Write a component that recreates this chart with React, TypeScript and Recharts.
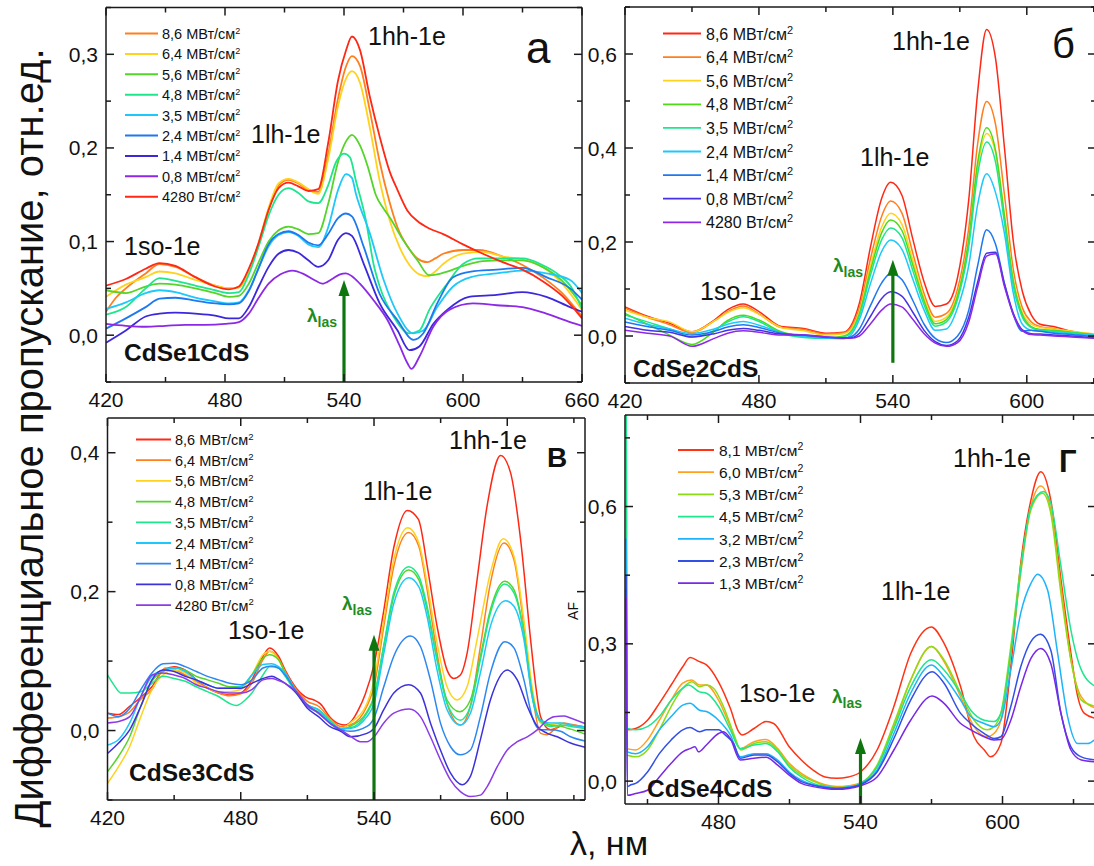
import React from "react";
import { LineChart, Line, XAxis, YAxis, ReferenceLine } from "recharts";

type Pt = [number, number];
const FONT = '"Liberation Sans", Arial, Helvetica, sans-serif';
const AXIS = "#1a1a1a";
const ARROW = "#0f760f";

// ================= Panel а (CdSe1CdS) =================
const aNames = ["8,6 МВт/см", "6,4 МВт/см", "5,6 МВт/см", "4,8 МВт/см", "3,5 МВт/см", "2,4 МВт/см", "1,4 МВт/см", "0,8 МВт/см", "4280 Вт/см"];
const aColors = ["#ff7f1e", "#ffd21e", "#55d52a", "#1ee68c", "#1ec8fa", "#1e78f0", "#3c28dc", "#8c28e6", "#ff2814"];
const a86: Pt[] = [[420,.025],[425,.040],[430,.050],[440,.066],[447,.076],[455,.073],[465,.062],[475,.053],[482,.050],[487,.051],[492,.069],[497,.098],[502,.134],[507,.160],[512,.166],[517,.162],[522,.155],[527,.153],[532,.193],[537,.253],[541,.287],[544,.298],[548,.288],[553,.240],[558,.185],[563,.142],[567,.115],[572,.095],[577,.082],[582,.078],[586,.082],[590,.087],[600,.091],[608,.091],[620,.084],[630,.075],[640,.062],[650,.045],[660,.020]];
const a64: Pt[] = [[420,.041],[430,.054],[440,.062],[447,.068],[455,.066],[465,.059],[475,.053],[482,.050],[487,.051],[492,.069],[497,.099],[502,.136],[507,.162],[512,.167],[517,.163],[522,.156],[527,.151],[532,.188],[537,.245],[541,.274],[544,.282],[548,.270],[553,.222],[558,.165],[563,.123],[568,.094],[573,.075],[578,.065],[582,.063],[586,.068],[590,.076],[600,.087],[610,.089],[620,.084],[630,.081],[640,.073],[650,.055],[660,.027]];
const a56: Pt[] = [[420,.048],[430,.045],[440,.052],[447,.055],[455,.054],[465,.050],[475,.045],[482,.041],[487,.042],[492,.055],[497,.078],[502,.100],[507,.112],[512,.116],[517,.113],[522,.108],[527,.109],[532,.140],[537,.185],[541,.207],[544,.214],[548,.203],[552,.180],[556,.150],[560,.135],[563,.126],[570,.101],[577,.080],[583,.064],[587,.065],[592,.068],[600,.074],[610,.079],[620,.080],[630,.080],[640,.073],[650,.058],[660,.032]];
const a48: Pt[] = [[420,.022],[430,.030],[440,.050],[447,.061],[455,.058],[465,.053],[475,.048],[482,.045],[487,.046],[492,.065],[497,.095],[502,.128],[507,.150],[512,.157],[517,.152],[522,.143],[527,.141],[532,.160],[536,.185],[540,.194],[543,.190],[546,.165],[551,.123],[555,.075],[558,.052],[565,.020],[573,.002],[578,.005],[583,.027],[592,.055],[600,.076],[608,.082],[620,.082],[630,.082],[640,.075],[648,.065],[655,.050],[660,.028]];
const a35: Pt[] = [[420,.028],[430,.035],[440,.045],[447,.048],[455,.046],[465,.040],[475,.036],[482,.034],[487,.035],[492,.048],[497,.072],[502,.095],[507,.107],[512,.110],[517,.106],[522,.097],[527,.094],[532,.115],[537,.155],[541,.172],[544,.168],[546,.151],[553,.109],[560,.059],[567,.023],[575,.002],[580,.005],[587,.030],[595,.052],[604,.062],[617,.066],[630,.069],[642,.066],[654,.059],[660,.045]];
const a24: Pt[] = [[420,.007],[430,.018],[440,.030],[447,.039],[455,.040],[465,.037],[475,.034],[482,.033],[487,.034],[492,.047],[497,.072],[502,.097],[507,.108],[512,.111],[517,.107],[522,.099],[527,.096],[532,.108],[537,.125],[541,.130],[544,.127],[550,.094],[558,.044],[567,.016],[575,-.005],[580,.002],[587,.034],[595,.062],[604,.068],[617,.070],[630,.072],[642,.062],[654,.050],[660,.038]];
const a14: Pt[] = [[420,-.008],[430,.005],[440,.020],[447,.023],[455,.024],[465,.023],[475,.021],[482,.018],[487,.018],[492,.030],[497,.052],[502,.073],[507,.087],[512,.091],[517,.088],[522,.080],[527,.073],[532,.080],[537,.102],[541,.109],[544,.106],[550,.076],[558,.034],[567,.005],[573,-.016],[578,-.012],[585,.012],[592,.027],[603,.041],[617,.043],[630,.046],[642,.041],[654,.030],[660,.025]];
const a08: Pt[] = [[420,.012],[430,.010],[440,.009],[450,.010],[460,.011],[470,.011],[480,.012],[487,.014],[492,.023],[497,.040],[502,.055],[508,.065],[514,.069],[520,.065],[525,.059],[529,.055],[534,.060],[538,.065],[541,.066],[544,.063],[548,.055],[555,.037],[562,.016],[568,-.011],[572,-.030],[574,-.036],[578,-.023],[585,.009],[593,.027],[605,.034],[617,.032],[630,.030],[642,.023],[654,.014],[660,.010]];
const a4280: Pt[] = [[420,.053],[430,.060],[440,.071],[447,.077],[455,.074],[465,.062],[475,.052],[482,.049],[487,.052],[492,.071],[497,.099],[502,.134],[507,.157],[512,.163],[517,.159],[522,.154],[527,.156],[532,.205],[537,.272],[541,.304],[544,.319],[548,.305],[553,.255],[558,.212],[563,.175],[567,.155],[572,.133],[577,.122],[583,.114],[590,.108],[600,.097],[610,.087],[620,.078],[630,.070],[640,.058],[650,.042],[660,.018]];
const aData = [a86, a64, a56, a48, a35, a24, a14, a08, a4280];

// ================= Panel б (CdSe2CdS) =================
const bNames = ["8,6 МВт/см", "6,4 МВт/см", "5,6 МВт/см", "4,8 МВт/см", "3,5 МВт/см", "2,4 МВт/см", "1,4 МВт/см", "0,8 МВт/см", "4280 Вт/см"];
const bColors = ["#ff2814", "#ff7f1e", "#ffd21e", "#4cdc14", "#1ee68c", "#1ec8fa", "#1e78f0", "#4632e6", "#8c28e6"];
const bX = [420,430,440,450,460,466,473,480,490,500,510,518,521,525,530,535,539,544,549,554,559,564,569,574,578,582,586,590,594,598,602,606,612,620,631];
const b86 = [.062,.042,.027,.009,.034,.056,.068,.052,.020,.016,.006,.008,.020,.070,.190,.293,.327,.300,.205,.115,.063,.068,.125,.290,.520,.652,.590,.400,.200,.095,.045,.025,.020,.010,.002];
const b64 = [.059,.040,.024,.007,.032,.052,.064,.047,.018,.014,.004,.007,.016,.060,.165,.255,.287,.262,.175,.090,.040,.048,.100,.230,.410,.499,.450,.300,.140,.060,.030,.020,.016,.009,.002];
const b56 = [.055,.040,.030,.009,.032,.050,.060,.046,.018,.011,.002,.005,.013,.052,.150,.232,.261,.238,.160,.080,.031,.040,.090,.205,.360,.431,.390,.255,.120,.050,.025,.018,.015,.010,.004];
const b48 = [.048,.025,.002,-.018,.010,.033,.044,.034,.009,-.001,-.004,.000,.008,.047,.140,.220,.247,.225,.150,.074,.026,.035,.085,.205,.370,.443,.395,.255,.115,.045,.020,.014,.012,.008,.003];
const b35 = [.045,.030,.015,-.002,.012,.030,.041,.031,.006,-.003,-.005,-.002,.006,.043,.130,.205,.230,.210,.138,.066,.021,.030,.078,.190,.345,.413,.370,.240,.105,.040,.018,.012,.010,.007,.002];
const b24 = [.038,.025,.015,.005,.015,.025,.031,.023,.007,-.001,-.005,-.006,.001,.035,.112,.180,.204,.185,.120,.055,.012,.015,.060,.150,.280,.345,.305,.218,.090,.025,.012,.010,.008,.005,.001];
const b14 = [.030,.020,.012,.002,.010,.019,.024,.018,.006,.002,-.003,-.004,-.002,.015,.065,.113,.133,.120,.075,.025,-.005,-.014,.000,.055,.150,.226,.195,.112,.045,.010,.012,.010,.006,.003,-.002];
const b08 = [.020,.012,.008,-.002,.005,.012,.016,.012,.004,.002,-.002,-.004,-.004,.006,.042,.080,.094,.085,.050,.012,-.012,-.020,-.010,.040,.115,.176,.178,.110,.048,.013,.005,.004,.002,.000,-.004];
const b4280 = [.012,.006,.000,-.022,-.005,.006,.011,.008,.002,.002,-.002,-.004,-.005,.000,.026,.055,.068,.062,.035,.005,-.015,-.022,-.014,.030,.105,.170,.175,.105,.045,.012,.003,.002,.000,-.002,-.005];
const bData: Pt[][] = [b86, b64, b56, b48, b35, b24, b14, b08, b4280].map((v) => v.map((y, i) => [bX[i], y] as Pt));

// ================= Panel в (CdSe3CdS) =================
const cNames = ["8,6 МВт/см", "6,4 МВт/см", "5,6 МВт/см", "4,8 МВт/см", "3,5 МВт/см", "2,4 МВт/см", "1,4 МВт/см", "0,8 МВт/см", "4280 Вт/см"];
const cColors = ["#ff2814", "#ff7f1e", "#ffd21e", "#55d52a", "#1ee68c", "#1ec8fa", "#2d87f0", "#3c32dc", "#8c3ce6"];
const c86: Pt[] = [[420,.025],[425,.023],[430,.035],[435,.048],[440,.063],[445,.087],[450,.092],[455,.087],[460,.073],[465,.061],[470,.054],[475,.051],[480,.054],[485,.073],[490,.107],[493,.119],[497,.107],[500,.087],[505,.061],[510,.047],[513,.044],[516,.038],[520,.020],[524,.010],[527,.008],[530,.014],[533,.030],[536,.052],[540,.095],[544,.165],[549,.265],[555,.317],[560,.304],[564,.236],[568.4,.150],[572.9,.087],[575.9,.075],[578.9,.080],[581.9,.111],[586.4,.217],[590.9,.323],[597,.396],[601.5,.371],[606,.275],[610.5,.131],[613,.060],[615,.020],[619.5,.001],[624,.006],[628.5,.008],[635,.005]];
const c64: Pt[] = [[420,.018],[425,.020],[430,.027],[435,.045],[440,.059],[446,.090],[450,.088],[455,.080],[460,.071],[465,.062],[470,.054],[475,.050],[480,.053],[485,.068],[490,.102],[493,.114],[497,.104],[500,.085],[505,.059],[510,.042],[515,.035],[520,.018],[525,.006],[529.3,.008],[536.8,.035],[540,.063],[544.4,.150],[548.9,.236],[555.6,.285],[560.2,.265],[563.9,.203],[568.4,.111],[572.9,.039],[578.9,.008],[583.4,.035],[587.9,.121],[592.4,.212],[598.5,.270],[603,.246],[607.5,.150],[611.2,.054],[615,-.004],[618,-.006],[621,.001],[625.5,.011],[628.5,.009],[635,.005]];
const c56: Pt[] = [[420,-.076],[425,-.052],[430,-.023],[435,.020],[440,.059],[445,.080],[450,.087],[455,.083],[460,.068],[465,.061],[470,.056],[475,.056],[480,.059],[485,.080],[490,.109],[493,.114],[497,.102],[500,.083],[505,.054],[510,.035],[515,.027],[520,.015],[525,.003],[529.3,.011],[536.8,.039],[540,.073],[544.4,.159],[548.9,.246],[555.2,.292],[560.2,.270],[563.9,.212],[568.4,.126],[572.9,.063],[577.4,.044],[581.9,.063],[586.4,.131],[592.4,.227],[598.2,.276],[603,.251],[607.5,.159],[611.2,.063],[615,.011],[619.5,.008],[624,.011],[628.5,.006],[635,.004]];
const c48: Pt[] = [[420,-.059],[425,-.037],[430,-.009],[435,.035],[440,.071],[445,.085],[450,.090],[455,.087],[460,.078],[465,.073],[470,.068],[475,.063],[480,.063],[485,.080],[490,.104],[493,.109],[497,.102],[500,.083],[505,.056],[510,.035],[515,.027],[520,.011],[525,.001],[529.3,.006],[536.8,.027],[540,.049],[544.4,.121],[548.9,.193],[555.6,.231],[560.2,.217],[563.9,.174],[568.4,.102],[572.9,.044],[578.6,.027],[583.4,.044],[587.9,.107],[592.4,.174],[598.8,.215],[603,.203],[607.5,.140],[611.2,.054],[615,.015],[619.5,.008],[624,.006],[628.5,.002],[635,-.005]];
const c35: Pt[] = [[420,.080],[423,.065],[426,.054],[430,.054],[435,.056],[440,.068],[445,.078],[450,.075],[455,.071],[460,.063],[465,.056],[470,.049],[475,.039],[478,.036],[482,.044],[485,.054],[490,.080],[493,.092],[497,.090],[500,.078],[505,.054],[510,.037],[515,.030],[520,.015],[525,.003],[529.3,.004],[536.8,.025],[540,.047],[544.4,.123],[548.9,.198],[555.6,.236],[560.2,.222],[563.9,.179],[568.4,.102],[572.9,.039],[578.9,.015],[583.4,.035],[587.9,.102],[592.4,.169],[598.8,.211],[603,.198],[607.5,.140],[611.2,.049],[615,.013],[619.5,.006],[624,.008],[628.5,.006],[635,.003]];
const c24: Pt[] = [[420,-.021],[425,-.013],[430,.011],[435,.049],[440,.078],[445,.087],[450,.090],[455,.085],[460,.073],[465,.066],[470,.061],[475,.061],[480,.063],[485,.080],[490,.095],[494,.096],[497,.092],[500,.083],[505,.056],[510,.037],[515,.030],[520,.013],[525,.003],[529.3,.003],[536.8,.020],[540,.039],[544.4,.111],[548.9,.183],[555.6,.220],[560.2,.207],[563.9,.164],[568.4,.087],[572.9,.030],[578.9,.008],[583.4,.025],[587.9,.083],[592.4,.150],[599.2,.187],[603,.179],[607.5,.131],[611.2,.049],[615,.015],[619.5,.011],[624,.011],[628.5,.008],[635,.005]];
const c14: Pt[] = [[420,.025],[425,.020],[430,.032],[435,.059],[440,.083],[445,.096],[450,.097],[455,.092],[460,.085],[465,.078],[470,.073],[475,.068],[480,.066],[485,.073],[490,.090],[494,.093],[497,.090],[500,.080],[505,.056],[510,.035],[515,.025],[520,.011],[525,.001],[529.3,-.001],[536.8,.006],[540,.018],[544.4,.063],[548.9,.107],[556.4,.136],[560.9,.121],[565.4,.073],[569.9,.011],[574.4,-.023],[578.9,-.035],[583.4,-.028],[587.9,.020],[592.4,.083],[598.9,.128],[603,.119],[607.5,.073],[611.2,.020],[615,.001],[619.5,.001],[624,-.001],[628.5,-.009],[635,-.015]];
const c08: Pt[] = [[420,-.033],[425,-.018],[430,.001],[435,.035],[440,.073],[445,.087],[450,.085],[455,.078],[460,.073],[465,.066],[470,.061],[475,.061],[480,.061],[485,.068],[490,.075],[494,.078],[497,.074],[500,.068],[505,.054],[510,.032],[515,.020],[520,.006],[525,-.001],[529.3,-.009],[536.8,-.004],[540,.003],[544.4,.030],[548.9,.054],[555.6,.066],[560.9,.054],[565.4,.011],[569.9,-.028],[574.4,-.061],[579.7,-.078],[583.4,-.066],[587.9,-.013],[592.4,.044],[600,.087],[604.5,.073],[609,.035],[613.5,.006],[618,-.004],[622.5,-.009],[628.5,-.018],[635,-.024]];
const c4280: Pt[] = [[420,.011],[425,.013],[430,.020],[435,.049],[440,.080],[445,.083],[450,.080],[455,.075],[460,.066],[465,.061],[470,.056],[475,.054],[480,.054],[485,.059],[490,.073],[494,.075],[497,.072],[500,.068],[505,.056],[510,.037],[515,.025],[520,.011],[525,.001],[529.3,-.008],[533.8,-.016],[536.8,-.016],[540,-.009],[544.4,.011],[548.9,.025],[555.9,.031],[560.9,.020],[565.4,-.009],[569.9,-.042],[574.4,-.071],[578.9,-.088],[583.4,-.095],[587.9,-.093],[590.9,-.081],[595.5,-.052],[600,-.028],[604.5,-.016],[609,-.009],[613.5,.001],[618,.015],[621,.020],[625.5,.021],[628.5,.018],[635,.010]];
const cData = [c86, c64, c56, c48, c35, c24, c14, c08, c4280];

// ================= Panel г (CdSe4CdS) =================
const dNames = ["8,1 МВт/см", "6,0 МВт/см", "5,3 МВт/см", "4,5 МВт/см", "3,2 МВт/см", "2,3 МВт/см", "1,3 МВт/см"];
const dColors = ["#ff3214", "#ffa01e", "#8cdc14", "#1ee68c", "#1eb4fa", "#3250e6", "#7828e6"];
const d81: Pt[] = [[441.0,.42],[441.5,.112],[445,.115],[450,.133],[455,.170],[460,.210],[464.9,.250],[468,.270],[472,.261],[474.9,.254],[480,.217],[485,.159],[488.5,.108],[489.9,.101],[495,.115],[500.1,.130],[503.3,.126],[509.9,.075],[515,.046],[520,.024],[525,.009],[530,.006],[534.9,.009],[540,.020],[547,.068],[554.1,.163],[561.2,.279],[569.9,.337],[575.3,.301],[582.3,.206],[588,.097],[592.3,.068],[595,.053],[599.3,.082],[603.5,.250],[607.7,.476],[612,.614],[616.2,.676],[620.4,.614],[624.7,.440],[628.9,.279],[631.8,.184],[634.6,.148],[639.5,.137]];
const d60: Pt[] = [[441.2,.071],[445,.068],[450,.090],[455,.133],[460,.177],[464.9,.214],[468.7,.221],[472,.210],[474.9,.210],[480,.177],[485,.119],[489.2,.071],[495,.086],[500.1,.091],[505,.071],[509.9,.039],[515,.017],[520,.002],[525,-.008],[530,-.012],[535,-.010],[540,-.004],[547,.031],[554.1,.119],[561.2,.221],[570,.294],[575.3,.261],[582.3,.184],[588,.119],[593.6,.097],[596.4,.104],[599.3,.133],[603.5,.279],[607.7,.454],[612,.600],[616.2,.645],[620.4,.593],[624.7,.425],[628.9,.265],[633.3,.184],[639.5,.159]];
const d53: Pt[] = [[441.2,.057],[445,.053],[450,.068],[455,.112],[460,.163],[464.9,.203],[468.7,.217],[472,.206],[474.9,.210],[477.9,.203],[482.1,.163],[486.4,.104],[489.5,.068],[495,.082],[500.1,.086],[505,.068],[509.9,.035],[515,.013],[520,.000],[525,-.010],[530,-.014],[535,-.012],[540,-.005],[547,.035],[554.1,.126],[561.2,.221],[570,.294],[575.3,.265],[582.3,.192],[588,.133],[593.6,.112],[596.4,.119],[599.3,.148],[603.5,.294],[607.7,.469],[612,.593],[616.9,.629],[620.4,.585],[624.7,.410],[628.9,.265],[633.3,.177],[639.5,.163]];
const d45: Pt[] = [[441.0,.85],[441.5,.115],[445,.112],[450,.119],[455,.141],[460,.177],[464.9,.203],[467.3,.210],[472,.195],[474.9,.192],[480,.163],[485,.112],[489.2,.071],[495,.079],[500.1,.082],[505,.064],[509.9,.031],[515,.009],[520,-.005],[525,-.012],[530,-.016],[535,-.013],[540,-.006],[547,.031],[554.1,.115],[561.2,.206],[570,.265],[575.3,.243],[582.3,.192],[586.6,.155],[592.3,.133],[596.4,.130],[599.3,.148],[603.5,.279],[607.7,.461],[612,.600],[617.3,.633],[620.4,.607],[624.7,.469],[628.9,.330],[633.3,.243],[639.5,.206]];
const d32: Pt[] = [[441.0,.53],[441.5,.064],[445,.060],[450,.075],[455,.112],[460,.141],[464.9,.166],[468,.170],[472,.155],[474.9,.152],[480,.133],[485,.101],[489.2,.053],[495,.060],[500.1,.060],[505,.046],[509.9,.020],[515,.002],[520,-.008],[525,-.012],[530,-.015],[535,-.013],[540,-.006],[547,.024],[554.1,.104],[561.2,.192],[570,.254],[575.3,.228],[582.3,.177],[586.6,.141],[592.3,.126],[596.4,.119],[599.3,.133],[603.5,.243],[607.7,.367],[612,.432],[614.8,.452],[619,.418],[623.3,.279],[627.5,.141],[631.8,.082],[636,.082],[639.5,.093]];
const d23: Pt[] = [[441.0,.45],[441.5,-.012],[443,-.008],[445,-.005],[450,.020],[455,.060],[460,.090],[464.9,.112],[468,.117],[472,.108],[474.9,.112],[480,.112],[482.8,.101],[486.4,.082],[489.2,.050],[495,.057],[500.1,.057],[505,.042],[509.9,.017],[515,-.001],[520,-.009],[525,-.014],[530,-.016],[535,-.014],[540,-.008],[547,.020],[554.1,.093],[561.2,.177],[570.3,.239],[575.3,.214],[582.3,.148],[586.6,.126],[592.3,.104],[596.4,.093],[599.3,.097],[603.5,.163],[607.7,.250],[612,.305],[616,.321],[620.4,.286],[624.7,.148],[628.9,.075],[633.3,.053],[639.5,.046]];
const d13: Pt[] = [[441.0,.40],[441.5,-.031],[445,-.027],[450,-.020],[455,.009],[460,.039],[464.9,.064],[468,.071],[470.1,.075],[471.5,.064],[474.9,.079],[480,.104],[482.1,.108],[485,.093],[489.2,.046],[495,.050],[500.1,.052],[505,.035],[509.9,.013],[515,-.005],[520,-.012],[525,-.016],[530,-.018],[535,-.016],[540,-.010],[547,.009],[554.1,.068],[561.2,.133],[570.3,.186],[575.3,.170],[582.3,.126],[586.6,.112],[592.3,.097],[596.4,.090],[599.3,.091],[603.5,.133],[607.7,.206],[612,.268],[616.2,.290],[620.4,.257],[624.7,.148],[628.9,.068],[633.3,.046],[639.5,.042]];
const dData = [d81, d60, d53, d45, d32, d23, d13];

// ================= layout =================
interface Panel {
  box: { left: number; top: number; width: number; height: number };
  plot: { l: number; r: number; t: number; b: number };
  xDomain: [number, number];
  yDomain: [number, number];
  xMajor: number[]; xMinor: number[]; yMajor: number[]; yMinor: number[];
  data: Pt[][]; colors: string[]; sw: number;
  arrow: [number, number, number];
}

const panels: Panel[] = [
  { box: { left: 0, top: 0, width: 600, height: 418 }, plot: { l: 106, r: 582, t: 7.5, b: 382 },
    xDomain: [420, 660], yDomain: [-0.05, 0.35], xMajor: [420, 480, 540, 600, 660], xMinor: [450, 510, 570, 630],
    yMajor: [0, 0.1, 0.2, 0.3], yMinor: [-0.05, 0.05, 0.15, 0.25, 0.35], data: aData, colors: aColors, sw: 1.8, arrow: [540, -0.05, 0.059] },
  { box: { left: 560, top: 0, width: 540, height: 418 }, plot: { l: 625, r: 1096, t: 7, b: 383 },
    xDomain: [420, 631], yDomain: [-0.1, 0.7], xMajor: [420, 480, 540, 600], xMinor: [450, 510, 570, 630],
    yMajor: [0, 0.2, 0.4, 0.6], yMinor: [-0.1, 0.1, 0.3, 0.5, 0.7], data: bData, colors: bColors, sw: 1.5, arrow: [540, -0.057, 0.162] },
  { box: { left: 0, top: 400, width: 600, height: 440 }, plot: { l: 107.5, r: 585, t: 418, b: 800 },
    xDomain: [420, 635], yDomain: [-0.1, 0.45], xMajor: [420, 480, 540, 600], xMinor: [450, 510, 570, 630],
    yMajor: [0, 0.2, 0.4], yMinor: [-0.1, 0.1, 0.3], data: cData, colors: cColors, sw: 1.5, arrow: [540, -0.1, 0.138] },
  { box: { left: 560, top: 400, width: 540, height: 440 }, plot: { l: 625, r: 1096, t: 415, b: 804 },
    xDomain: [440.5, 639.5], yDomain: [-0.05, 0.8], xMajor: [480, 540, 600], xMinor: [450, 510, 570, 630],
    yMajor: [0, 0.3, 0.6], yMinor: [0.15, 0.45, 0.75], data: dData, colors: dColors, sw: 1.5, arrow: [540, -0.05, 0.094] },
];

const isMaj = (arr: number[], v: number) => arr.some((m) => Math.abs(m - v) < 1e-6);
const fmt = (v: number) => (Math.abs(v) < 1e-9 ? 0 : v).toFixed(1).replace(".", ",");
const MAJ = 8;
const MIN = 5;
const TICKFONT = 21;
// axis band sizes (must be > 0 or Recharts skips the axis)
const AX_B = 2, AX_T = 2, AX_L = 2, AX_R = 2;

const ArrowShape = (s: any) => {
  const x = s.x1;
  const yb = Math.max(s.y1, s.y2);
  const yt = Math.min(s.y1, s.y2);
  return (
    <g>
      <line x1={x} x2={x} y1={yb} y2={yt + 12} stroke={ARROW} strokeWidth={3.2} />
      <polygon points={`${x},${yt} ${x - 5.5},${yt + 16} ${x + 5.5},${yt + 16}`} fill={ARROW} />
    </g>
  );
};

function PanelChart({ p }: { p: Panel }) {
  const { box, plot } = p;
  const margin = {
    left: plot.l - box.left - AX_L,
    right: box.left + box.width - plot.r - AX_R,
    top: plot.t - box.top - AX_T,
    bottom: box.top + box.height - plot.b - AX_B,
  };
  const xt = [...p.xMajor, ...p.xMinor];
  const yt = [...p.yMajor, ...p.yMinor];
  const axisLine = { stroke: AXIS, strokeWidth: 1.5 };
  return (
    <div style={{ position: "absolute", left: box.left, top: box.top }}>
      <LineChart width={box.width} height={box.height} margin={margin} style={{ overflow: "visible" }}>
        <XAxis xAxisId="b" type="number" dataKey="x" orientation="bottom" domain={p.xDomain} allowDataOverflow ticks={xt} interval={0}
          height={AX_B} tickSize={0} tickMargin={0} tickLine={false} axisLine={axisLine}
          tick={(t: any) => {
            const m = isMaj(p.xMajor, t.payload.value);
            return (
              <g>
                <line x1={t.x} x2={t.x} y1={t.y} y2={t.y - (m ? MAJ : MIN)} stroke={AXIS} strokeWidth={1.5} />
                {m && <text x={t.x} y={t.y + 25} textAnchor="middle" fontSize={TICKFONT} fontFamily={FONT} fill="#111">{t.payload.value}</text>}
              </g>
            );
          }} />
        <XAxis xAxisId="t" type="number" dataKey="x" orientation="top" domain={p.xDomain} allowDataOverflow ticks={xt} interval={0}
          height={AX_T} tickSize={0} tickMargin={0} tickLine={false} axisLine={axisLine}
          tick={(t: any) => {
            const m = isMaj(p.xMajor, t.payload.value);
            return <line x1={t.x} x2={t.x} y1={t.y} y2={t.y + (m ? MAJ : MIN)} stroke={AXIS} strokeWidth={1.5} />;
          }} />
        <YAxis yAxisId="l" type="number" orientation="left" domain={p.yDomain} allowDataOverflow ticks={yt} interval={0}
          width={AX_L} tickSize={0} tickMargin={0} tickLine={false} axisLine={axisLine}
          tick={(t: any) => {
            const m = isMaj(p.yMajor, t.payload.value);
            return (
              <g>
                <line x1={t.x} x2={t.x + (m ? MAJ : MIN)} y1={t.y} y2={t.y} stroke={AXIS} strokeWidth={1.5} />
                {m && <text x={t.x - 8} y={t.y + 7.5} textAnchor="end" fontSize={TICKFONT} fontFamily={FONT} fill="#111">{fmt(t.payload.value)}</text>}
              </g>
            );
          }} />
        <YAxis yAxisId="r" type="number" orientation="right" domain={p.yDomain} allowDataOverflow ticks={yt} interval={0}
          width={AX_R} tickSize={0} tickMargin={0} tickLine={false} axisLine={axisLine}
          tick={(t: any) => {
            const m = isMaj(p.yMajor, t.payload.value);
            return <line x1={t.x} x2={t.x - (m ? MAJ : MIN)} y1={t.y} y2={t.y} stroke={AXIS} strokeWidth={1.5} />;
          }} />
        {p.data.map((s, i) => (
          <Line key={i} xAxisId="b" yAxisId="l" data={s.map(([x, y]) => ({ x, y }))} dataKey="y" type="monotone"
            stroke={p.colors[i]} strokeWidth={p.sw} dot={false} activeDot={false} isAnimationActive={false} />
        ))}
        <ReferenceLine xAxisId="b" yAxisId="l" ifOverflow="visible"
          segment={[{ x: p.arrow[0], y: p.arrow[1] }, { x: p.arrow[0], y: p.arrow[2] }]}
          shape={(s: any) => <ArrowShape {...s} />} />
      </LineChart>
    </div>
  );
}

function LegendBlock({ names, colors, x0, x1, tx, y0, dy, size, sup, sw }: { names: string[]; colors: string[]; x0: number; x1: number; tx: number; y0: number; dy: number; size: number; sup: number; sw: number }) {
  return (
    <g>
      {names.map((n, i) => {
        const y = y0 + i * dy;
        return (
          <g key={i}>
            <line x1={x0} x2={x1} y1={y} y2={y} stroke={colors[i]} strokeWidth={sw} />
            <text x={tx} y={y + size * 0.38} fontSize={size} fontFamily={FONT} fill="#111">
              {n}
              <tspan fontSize={sup} dy={-size * 0.38}>2</tspan>
            </text>
          </g>
        );
      })}
    </g>
  );
}

const Lab = ({ x, y, s, t, bold, fill, anchor }: { x: number; y: number; s: number; t: string; bold?: boolean; fill?: string; anchor?: string }) => (
  <text x={x} y={y} fontSize={s} fontFamily={FONT} fontWeight={bold ? "bold" : "normal"} fill={fill || "#111"} textAnchor={(anchor as any) || "start"}>{t}</text>
);

const Lambda = ({ x, y }: { x: number; y: number }) => (
  <text x={x} y={y} fontFamily={FONT} fill="#1e8c1e" fontWeight="bold">
    <tspan fontSize={19}>λ</tspan>
    <tspan fontSize={14} dy={5}>las</tspan>
  </text>
);

export default function App() {
  return (
    <div style={{ position: "absolute", left: 0, top: 0, width: 1094, height: 866, overflow: "hidden", background: "#fff", fontFamily: FONT }}>
      {panels.map((p, i) => <PanelChart key={i} p={p} />)}
      <svg width={1094} height={866} style={{ position: "absolute", left: 0, top: 0, pointerEvents: "none" }}>
        {/* panel а */}
        <LegendBlock names={aNames} colors={aColors} x0={125} x1={158} tx={162} y0={33.5} dy={20.4} size={14.5} sup={9} sw={2} />
        <Lab x={368} y={45} s={25} t="1hh-1e" />
        <Lab x={251} y={143} s={25} t="1lh-1e" />
        <Lab x={124} y={255} s={25} t="1so-1e" />
        <Lab x={526} y={63} s={44} t="а" />
        <Lab x={124} y={361} s={24.5} t="CdSe1CdS" bold />
        <Lambda x={307} y={322} />
        {/* panel б */}
        <LegendBlock names={bNames} colors={bColors} x0={663} x1={701} tx={706} y0={33.5} dy={23.6} size={16} sup={11} sw={1.8} />
        <Lab x={892} y={50} s={25} t="1hh-1e" />
        <Lab x={860} y={166} s={25} t="1lh-1e" />
        <Lab x={700} y={300} s={25} t="1so-1e" />
        <Lab x={1052} y={58} s={40} t="б" />
        <Lab x={633} y={377} s={24.5} t="CdSe2CdS" bold />
        <Lambda x={833} y={272} />
        {/* panel в */}
        <LegendBlock names={cNames} colors={cColors} x0={136} x1={171} tx={175} y0={439.5} dy={20.7} size={14.5} sup={9.5} sw={1.8} />
        <Lab x={449} y={449} s={25} t="1hh-1e" />
        <Lab x={363} y={500} s={25} t="1lh-1e" />
        <Lab x={228} y={639} s={25} t="1so-1e" />
        <Lab x={547} y={467} s={28} t="В" bold />
        <Lab x={129} y={781} s={24.5} t="CdSe3CdS" bold />
        <Lambda x={342} y={610} />
        <text transform="translate(578,611) rotate(-90)" fontSize={14} fontFamily={FONT} textAnchor="middle" fill="#111">AF</text>
        {/* panel г */}
        <LegendBlock names={dNames} colors={dColors} x0={678} x1={714} tx={719} y0={450} dy={22.2} size={15.5} sup={10.5} sw={1.8} />
        <Lab x={953} y={467} s={25} t="1hh-1e" />
        <Lab x={1059} y={472} s={31} t="Г" bold />
        <Lab x={881} y={600} s={25} t="1lh-1e" />
        <Lab x={739} y={702} s={25} t="1so-1e" />
        <Lab x={647} y={797} s={24.5} t="CdSe4CdS" bold />
        <Lambda x={832} y={703} />
        {/* axis titles */}
        <text transform="translate(43,438) rotate(-90)" fontSize={40} fontFamily={FONT} textAnchor="middle" fill="#111">Дифференциальное пропускание, отн.ед.</text>
        <text x={609} y={855} fontSize={34} fontFamily={FONT} textAnchor="middle" fill="#111">λ, нм</text>
      </svg>
    </div>
  );
}
